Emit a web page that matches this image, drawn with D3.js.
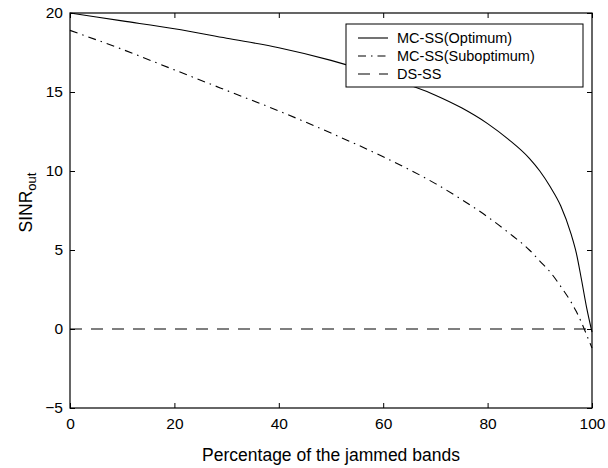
<!DOCTYPE html>
<html lang="en">
<head>
<meta charset="utf-8">
<title>SINR vs jammed bands</title>
<script src="https://d3js.org/d3.v7.min.js"></script>
<style>
  body { margin: 0; background: #fff; }
  text { font-family: "Liberation Sans", Arial, sans-serif; fill: #000; }
</style>
</head>
<body>
<div id="chart"></div>
<script>

// values
var percent    = [0, 10, 20, 30, 40, 50, 60, 70, 75, 80, 84, 88, 90, 92, 94, 96, 97, 98, 99, 100];
var optimum    = [20, 19.5, 19.0, 18.4, 17.8, 17.0, 16.0, 14.8, 14.0, 13.0, 12.0, 10.8, 10.0, 9.0, 7.8, 6.0, 4.8, 3.1, 1.3, -0.2];
var suboptimum = [18.9, 17.7, 16.4, 15.1, 13.8, 12.4, 10.9, 9.2, 8.2, 7.1, 6.1, 5.0, 4.3, 3.6, 2.7, 1.7, 1.1, 0.4, -0.4, -1.2];
var dsss       = [0, 0, 0, 0, 0, 0, 0, 0, 0, 0, 0, 0, 0, 0, 0, 0, 0, 0, 0, 0];
var seriesNames = ["MC-SS(Optimum)", "MC-SS(Suboptimum)", "DS-SS"];
var xTicks = [0, 20, 40, 60, 80, 100];
var yTicks = [-5, 0, 5, 10, 15, 20];

var margin = {top: 13, right: 16, bottom: 60, left: 70},
    width = 608 - margin.left - margin.right,
    height = 468 - margin.top - margin.bottom;

var svg = d3.select("#chart")
  .append("svg")
    .attr("width", 608)
    .attr("height", 468)
  .append("g")
    .attr("transform", "translate(" + margin.left + "," + margin.top + ")");

var x = d3.scaleLinear().domain([0, 100]).range([0, width]);
var y = d3.scaleLinear().domain([-5, 20]).range([height, 0]);

// axes, matlab style: ticks pointing inwards on every side
var tickLen = 5;
function styleAxis(g) {
  g.select(".domain").remove();
  g.selectAll("line").attr("stroke", "#000");
  g.selectAll("text").style("font-size", "15.5px");
}
svg.append("g")
    .attr("transform", "translate(0," + height + ")")
    .call(d3.axisBottom(x).tickValues(xTicks).tickSizeInner(-tickLen).tickSizeOuter(0).tickPadding(9))
    .call(styleAxis)
    .selectAll("text").attr("dy", "0.8em");
svg.append("g")
    .call(d3.axisTop(x).tickValues(xTicks).tickSizeInner(-tickLen).tickSizeOuter(0).tickFormat(""))
    .call(styleAxis);
svg.append("g")
    .call(d3.axisLeft(y).tickValues(yTicks).tickSizeInner(-tickLen).tickSizeOuter(0).tickPadding(7))
    .call(styleAxis);
svg.append("g")
    .attr("transform", "translate(" + width + ",0)")
    .call(d3.axisRight(y).tickValues(yTicks).tickSizeInner(-tickLen).tickSizeOuter(0).tickFormat(""))
    .call(styleAxis);

// frame
svg.append("rect")
    .attr("width", width)
    .attr("height", height)
    .attr("fill", "none")
    .attr("stroke", "#000")
    .attr("stroke-width", 1.2);

// curves
var dashes = [null, "8,5,1.5,5", "12,9"];
var line = d3.line()
    .x(function(d) { return x(d[0]); })
    .y(function(d) { return y(d[1]); })
    .curve(d3.curveMonotoneX);

[optimum, suboptimum, dsss].forEach(function(vals, i) {
  svg.append("path")
      .datum(percent.map(function(p, j) { return [p, vals[j]]; }))
      .attr("d", line)
      .attr("fill", "none")
      .attr("stroke", "#000")
      .attr("stroke-width", 1.1)
      .attr("stroke-dasharray", dashes[i]);
});

// axis titles
svg.append("text")
    .attr("x", width / 2)
    .attr("y", height + 53)
    .attr("text-anchor", "middle")
    .style("font-size", "17.5px")
    .text("Percentage of the jammed bands");

var ylab = svg.append("text")
    .attr("transform", "translate(-38," + (height / 2 - 8) + ") rotate(-90)")
    .attr("text-anchor", "middle")
    .style("font-size", "17.5px");
ylab.append("tspan").text("SINR");
ylab.append("tspan").attr("dy", 4).style("font-size", "13px").text("out");

// legend
var legend = svg.append("g")
    .attr("transform", "translate(" + (346 - margin.left) + "," + (24 - margin.top) + ")");
legend.append("rect")
    .attr("width", 237)
    .attr("height", 63)
    .attr("fill", "#fff")
    .attr("stroke", "#000");
seriesNames.forEach(function(name, i) {
  var ly = 14 + i * 18;
  legend.append("line")
      .attr("x1", 12).attr("x2", 42)
      .attr("y1", ly).attr("y2", ly)
      .attr("stroke", "#000")
      .attr("stroke-width", 1.1)
      .attr("stroke-dasharray", dashes[i]);
  legend.append("text")
      .attr("x", 51)
      .attr("y", ly)
      .attr("dy", "0.35em")
      .style("font-size", "14.5px")
      .text(name);
});

</script>
</body>
</html>
